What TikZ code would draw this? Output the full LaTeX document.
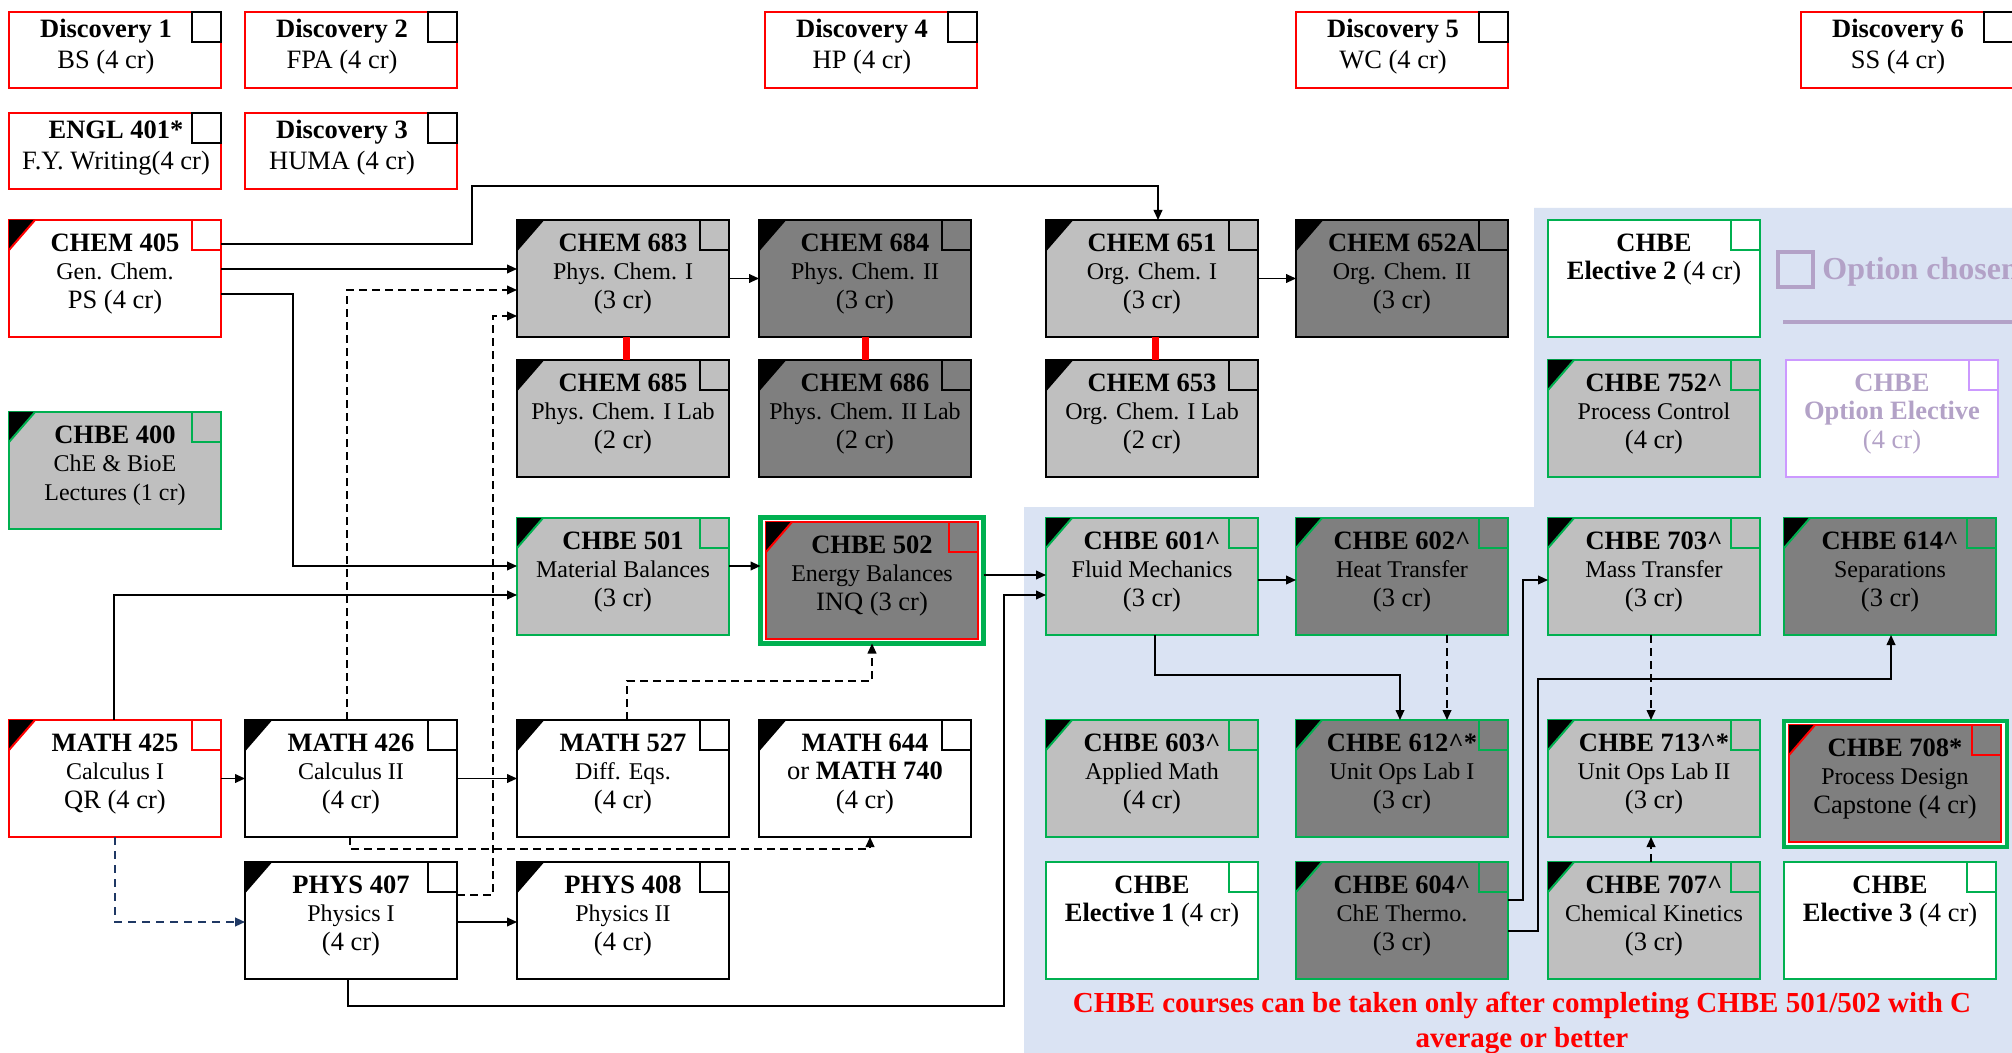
\documentclass[tikz,border=0pt]{standalone}
\usepackage{fontspec}
\setmainfont{Liberation Serif}
\usetikzlibrary{arrows.meta,calc}
\definecolor{lg}{HTML}{BFBFBF}
\definecolor{dg}{HTML}{7F7F7F}
\definecolor{grn}{HTML}{00B050}
\definecolor{bgb}{HTML}{DAE3F3}
\definecolor{purp}{HTML}{CC99FF}
\definecolor{optx}{HTML}{B3A2C7}
\definecolor{navy}{HTML}{1F3864}
\newcommand\ttl[1]{{\bfseries\rule{0pt}{10pt}#1}}
\newcommand\nme[1]{{\fontsize{12pt}{14.25pt}\selectfont #1}}
\tikzset{
  box/.style={rectangle, minimum width=106pt, minimum height=58.5pt, inner sep=0pt, outer sep=0pt, line width=1pt},
  dbox/.style={box, minimum height=38pt, draw=red, fill=white},
  obox/.style={rectangle, minimum width=111.5pt, minimum height=63pt, inner sep=0pt, outer sep=0pt, line width=2.2pt, draw=grn, fill=white},
  chk/.style={line width=1.2pt},
  txt/.style={font=\fontsize{13.25pt}{14.25pt}\selectfont, align=center, inner sep=0pt, anchor=north},
  dtxt/.style={font=\fontsize{13.25pt}{15.5pt}\selectfont, align=center, inner sep=0pt, anchor=north},
  arr/.style={-{Triangle[length=5pt,width=4.4pt]}, line width=0.7pt, black},
  dsh/.style={arr, dash pattern=on 4pt off 2.5pt},
  nvy/.style={arr, navy, line width=0.9pt, dash pattern=on 4pt off 3pt},
  rlink/.style={red, line width=3.5pt},
  note/.style={font=\fontsize{14.5pt}{17.5pt}\selectfont\bfseries, text=red, align=center, inner sep=0pt, anchor=north}
}
\newcommand\course[8]{%
  \node[box, fill=#4, draw=#5] (#1) at (#2+106,#3+58.5) {};
  \ifnum#7=1
    \fill[black] (#1.north west) -- ++(26,0) -- ++(-26,30) -- cycle;
    \draw[#5, line width=1pt] ($(#1.north west)+(26,0)$) -- ($(#1.north west)+(0,30)$);
  \fi
  \draw[#6, chk] ($(#1.north east)+(-29,0)$) rectangle ($(#1.north east)+(0,30)$);
  \node[txt] (#1-t) at ($(#1.north)+(0,11)$) {#8};
}
\newcommand\disc[5]{%
  \node[dbox] (#1) at (#2+106,#3+38) {};
  \draw[black, chk] ($(#1.north east)+(-29,0)$) rectangle ($(#1.north east)+(0,30)$);
  \node[dtxt] (#1-t) at ($(#1.north)+(#4,5)$) {#5};
}
\begin{document}
\begin{tikzpicture}[x=0.5pt,y=-0.5pt]
\useasboundingbox (0,0) rectangle (2012,1053);
\clip (0,0) rectangle (2012,1053);
\fill[white] (0,0) rectangle (2012,1053);
\fill[bgb] (1534,208) -- (2012,208) -- (2012,1053) -- (1024,1053) -- (1024,507) -- (1534,507) -- cycle;

% Discovery row
\disc{d1}{9}{12}{-9}{\ttl{Discovery 1}\\BS (4 cr)}
\disc{d2}{245}{12}{-9}{\ttl{Discovery 2}\\FPA (4 cr)}
\disc{d4}{765}{12}{-9}{\ttl{Discovery 4}\\HP (4 cr)}
\disc{d5}{1296}{12}{-9}{\ttl{Discovery 5}\\WC (4 cr)}
\disc{d6}{1801}{12}{-9}{\ttl{Discovery 6}\\SS (4 cr)}
\disc{engl}{9}{113}{1}{\ttl{ENGL 401*}\\F.Y. Writing(4 cr)}
\disc{d3}{245}{113}{-9}{\ttl{Discovery 3}\\HUMA (4 cr)}

% legend
\node[draw=optx, line width=2pt, minimum size=17.5pt, inner sep=0pt] (optsq) at (1795.5,269.5) {};
\node[anchor=base west, font=\fontsize{16pt}{19pt}\selectfont\bfseries, text=optx, inner sep=0pt] (optt) at (1822,280) {Option chosen};
\draw[optx, line width=2pt] (1783,322) -- (2012,322);

% courses
\course{c405}{9}{220}{white}{red}{red}{1}{\ttl{CHEM 405}\\\nme{Gen. Chem.}\\PS (4 cr)}
\course{c683}{517}{220}{lg}{black}{black}{1}{\ttl{CHEM 683}\\\nme{Phys. Chem. I}\\(3 cr)}
\course{c684}{759}{220}{dg}{black}{black}{1}{\ttl{CHEM 684}\\\nme{Phys. Chem. II}\\(3 cr)}
\course{c685}{517}{360}{lg}{black}{black}{1}{\ttl{CHEM 685}\\\nme{Phys. Chem. I Lab}\\(2 cr)}
\course{c686}{759}{360}{dg}{black}{black}{1}{\ttl{CHEM 686}\\\nme{Phys. Chem. II Lab}\\(2 cr)}
\course{c651}{1046}{220}{lg}{black}{black}{1}{\ttl{CHEM 651}\\\nme{Org. Chem. I}\\(3 cr)}
\course{c652}{1296}{220}{dg}{black}{black}{1}{\ttl{CHEM 652A}\\\nme{Org. Chem. II}\\(3 cr)}
\course{c653}{1046}{360}{lg}{black}{black}{1}{\ttl{CHEM 653}\\\nme{Org. Chem. I Lab}\\(2 cr)}
\course{e2}{1548}{220}{white}{grn}{grn}{0}{\ttl{CHBE}\\\ttl{Elective 2} (4 cr)}
\course{c752}{1548}{360}{lg}{grn}{grn}{1}{\ttl{CHBE 752\textasciicircum}\\\nme{Process Control}\\(4 cr)}
\course{opt}{1786}{360}{white}{purp}{purp}{0}{\color{optx}\ttl{CHBE}\\\color{optx}\ttl{Option Elective}\\\color{optx}(4 cr)}
\course{c400}{9}{412}{lg}{grn}{grn}{1}{\ttl{CHBE 400}\\\nme{ChE \& BioE}\\\nme{Lectures (1 cr)}}
\course{c501}{517}{518}{lg}{grn}{grn}{1}{\ttl{CHBE 501}\\\nme{Material Balances}\\(3 cr)}
\node[obox] (c502) at (872,580.5) {};
\course{c502i}{766}{522}{dg}{red}{red}{1}{\ttl{CHBE 502}\\\nme{Energy Balances}\\INQ (3 cr)}
\course{c601}{1046}{518}{lg}{grn}{grn}{1}{\ttl{CHBE 601\textasciicircum}\\\nme{Fluid Mechanics}\\(3 cr)}
\course{c602}{1296}{518}{dg}{grn}{grn}{1}{\ttl{CHBE 602\textasciicircum}\\\nme{Heat Transfer}\\(3 cr)}
\course{c703}{1548}{518}{lg}{grn}{grn}{1}{\ttl{CHBE 703\textasciicircum}\\\nme{Mass Transfer}\\(3 cr)}
\course{c614}{1784}{518}{dg}{grn}{grn}{1}{\ttl{CHBE 614\textasciicircum}\\\nme{Separations}\\(3 cr)}
\course{m425}{9}{720}{white}{red}{red}{1}{\ttl{MATH 425}\\\nme{Calculus I}\\QR (4 cr)}
\course{m426}{245}{720}{white}{black}{black}{1}{\ttl{MATH 426}\\\nme{Calculus II}\\(4 cr)}
\course{m527}{517}{720}{white}{black}{black}{1}{\ttl{MATH 527}\\\nme{Diff. Eqs.}\\(4 cr)}
\course{m644}{759}{720}{white}{black}{black}{1}{\ttl{MATH 644}\\or \textbf{MATH 740}\\(4 cr)}
\course{c603}{1046}{720}{lg}{grn}{grn}{1}{\ttl{CHBE 603\textasciicircum}\\\nme{Applied Math}\\(4 cr)}
\course{c612}{1296}{720}{dg}{grn}{grn}{1}{\ttl{CHBE 612\textasciicircum*}\\\nme{Unit Ops Lab I}\\(3 cr)}
\course{c713}{1548}{720}{lg}{grn}{grn}{1}{\ttl{CHBE 713\textasciicircum*}\\\nme{Unit Ops Lab II}\\(3 cr)}
\node[obox] (c708) at (1895.5,784) {};
\course{c708i}{1789}{725}{dg}{red}{red}{1}{\ttl{CHBE 708*}\\\nme{Process Design}\\Capstone (4 cr)}
\course{p407}{245}{862}{white}{black}{black}{1}{\ttl{PHYS 407}\\\nme{Physics I}\\(4 cr)}
\course{p408}{517}{862}{white}{black}{black}{1}{\ttl{PHYS 408}\\\nme{Physics II}\\(4 cr)}
\course{e1}{1046}{862}{white}{grn}{grn}{0}{\ttl{CHBE}\\\ttl{Elective 1} (4 cr)}
\course{c604}{1296}{862}{dg}{grn}{grn}{1}{\ttl{CHBE 604\textasciicircum}\\\nme{ChE Thermo.}\\(3 cr)}
\course{c707}{1548}{862}{lg}{grn}{grn}{1}{\ttl{CHBE 707\textasciicircum}\\\nme{Chemical Kinetics}\\(3 cr)}
\course{e3}{1784}{862}{white}{grn}{grn}{0}{\ttl{CHBE}\\\ttl{Elective 3} (4 cr)}

% connectors
\draw[arr] ($(c405.east)+(0,-34.5)$) -- ++(251,0) |- ($(c651.north)+(6,-34)$) -- ($(c651.north)+(6,0)$);
\draw[arr] ($(c405.east)+(0,-9.5)$) -- ($(c683.west)+(0,-9.5)$);
\draw[arr] ($(c405.east)+(0,15.5)$) -- ++(72,0) |- ($(c501.west)+(0,-10.5)$);
\draw[arr] ($(m425.north)+(-1,0)$) |- ($(c501.west)+(0,18.5)$);
\draw[dsh] ($(m426.north)+(-4,0)$) |- ($(c683.west)+(0,11.5)$);
\draw[dsh] ($(p407.east)+(0,-25.5)$) -- ++(36,0) |- ($(c683.west)+(0,37.5)$);
\draw[arr] (m425.east) -- (m426.west);
\draw[arr] (m426.east) -- (m527.west);
\draw[dsh] ($(m426.south)+(-1,0)$) -- ++(0,12) -| ($(m644.south)+(5,0)$);
\draw[nvy] (m425.south) |- ($(p407.west)+(0,1.5)$);
\draw[arr] ($(p407.east)+(0,1.5)$) -- ($(p408.west)+(0,1.5)$);
\draw[arr] ($(p407.south)+(-3,0)$) -- ++(0,27) -| ($(c601.west)+(-42,18.5)$) -- ($(c601.west)+(0,18.5)$);
\draw[arr] ($(c502.east)+(0,-5.5)$) -- ($(c601.west)+(0,-1.5)$);
\draw[arr] ($(c501.east)+(0,-10.5)$) -- ($(c502.west)+(0,-14.5)$);
\draw[dsh] ($(m527.north)+(4,0)$) -- ++(0,-39) -| (c502.south);
\draw[arr] (c683.east) -- (c684.west);
\draw[arr] (c651.east) -- (c652.west);
\draw[rlink] ($(c683.south)+(3,0)$) -- ($(c685.north)+(3,0)$);
\draw[rlink] (c684.south) -- (c686.north);
\draw[rlink] ($(c651.south)+(3,0)$) -- ($(c653.north)+(3,0)$);
\draw[arr] ($(c601.east)+(0,3.5)$) -- ($(c602.west)+(0,3.5)$);
\draw[arr] ($(c601.south)+(3,0)$) -- ++(0,40) -| ($(c612.north)+(-2,0)$);
\draw[dsh] ($(c602.south)+(45,0)$) -- ($(c612.north)+(45,0)$);
\draw[dsh] ($(c703.south)+(-3,0)$) -- ($(c713.north)+(-3,0)$);
\draw[dsh] ($(c707.north)+(-3,0)$) -- ($(c713.south)+(-3,0)$);
\draw[arr] ($(c604.east)+(0,-20.5)$) -- ++(15,0) |- ($(c703.west)+(0,3.5)$);
\draw[arr] ($(c604.east)+(0,10.5)$) -- ++(30,0) -- ++(0,-252) -| ($(c614.south)+(1,0)$);

% note
\node[note] (note) at (1522,991) {\rule{0pt}{10.5pt}CHBE courses can be taken only after completing CHBE 501/502 with C\\average or better};
\end{tikzpicture}
\end{document}
